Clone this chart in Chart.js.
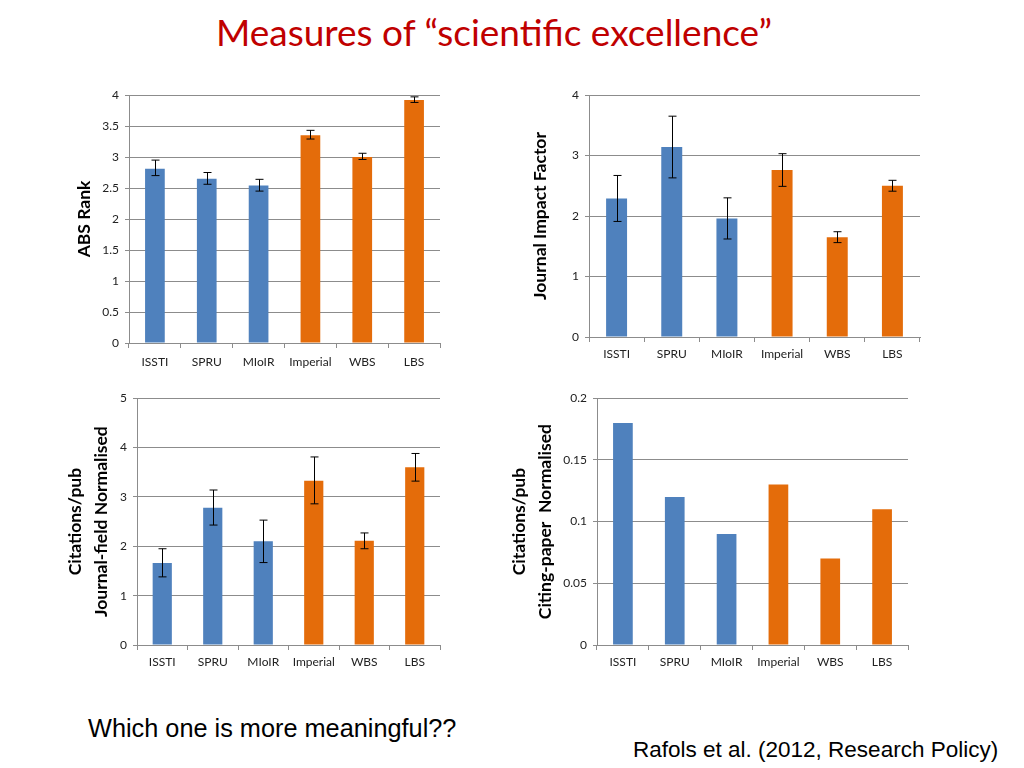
<!DOCTYPE html>
<html>
<head>
<meta charset="utf-8">
<script src="https://cdn.jsdelivr.net/npm/chart.js@4.4.0/dist/chart.umd.min.js"></script>
<style>
  body { margin: 0; width: 1024px; height: 768px; background: #fff; position: relative; overflow: hidden; }
  .title { position: absolute; left: 0; width: 988px; top: 9px; text-align: center; font-family: Lato, sans-serif; font-size: 37px; color: #c00000; }
  .note { position: absolute; font-family: "Liberation Sans", Arial, sans-serif; color: #000; }
  .box { position: absolute; }
</style>
</head>
<body>
<div class="title">Measures of “scientific excellence”</div>
<div class="box" style="left:60px;top:80px;width:390px;height:300px"><canvas id="c1"></canvas></div>
<div class="box" style="left:500px;top:80px;width:430px;height:290px"><canvas id="c2"></canvas></div>
<div class="box" style="left:50px;top:385px;width:400px;height:290px"><canvas id="c3"></canvas></div>
<div class="box" style="left:500px;top:385px;width:420px;height:290px"><canvas id="c4"></canvas></div>
<div class="note" style="left:88px;top:714px;font-size:25.3px">Which one is more meaningful??</div>
<div class="note" style="left:633px;top:737px;font-size:22.5px">Rafols et al. (2012, Research Policy)</div>
<script>
// categories + colours
const categories = ['ISSTI', 'SPRU', 'MIoIR', 'Imperial', 'WBS', 'LBS'];
const barColors = ['#4f81bd', '#4f81bd', '#4f81bd', '#e46c0a', '#e46c0a', '#e46c0a'];

// ABS rank
const absRank = [2.81, 2.65, 2.54, 3.35, 3.00, 3.92];
const absLo = [2.70, 2.56, 2.45, 3.29, 2.96, 3.88];
const absHi = [2.95, 2.75, 2.64, 3.43, 3.06, 3.97];

// journal impact factor
const jif = [2.29, 3.14, 1.96, 2.76, 1.65, 2.50];
const jifLo = [1.91, 2.63, 1.62, 2.49, 1.56, 2.41];
const jifHi = [2.67, 3.65, 2.30, 3.03, 1.74, 2.59];

// citations/pub journal-field normalised
const jfn = [1.66, 2.78, 2.10, 3.33, 2.11, 3.60];
const jfnLo = [1.38, 2.43, 1.67, 2.86, 1.95, 3.32];
const jfnHi = [1.95, 3.14, 2.53, 3.81, 2.27, 3.88];

// citations/pub citing-paper normalised
const cpn = [0.18, 0.12, 0.09, 0.13, 0.07, 0.11];

const FONT = 'Lato, "Open Sans", sans-serif';
const GRID = '#8c8c8c';

// error bars drawn with the y scale of the chart
const errorBars = {
    id: 'errorBars',
    afterDatasetsDraw(chart, args, opts) {
        if (!opts.lo) return;
        const ctx = chart.ctx;
        const y = chart.scales.y;
        const meta = chart.getDatasetMeta(0);
        ctx.save();
        ctx.strokeStyle = '#000';
        ctx.lineWidth = 1;
        meta.data.forEach((bar, i) => {
            const x = Math.round(bar.x) + 0.5;
            const y1 = y.getPixelForValue(opts.lo[i]);
            const y2 = y.getPixelForValue(opts.hi[i]);
            ctx.beginPath();
            ctx.moveTo(x, y1); ctx.lineTo(x, y2);
            ctx.moveTo(x - 4, y1); ctx.lineTo(x + 4, y1);
            ctx.moveTo(x - 4, y2); ctx.lineTo(x + 4, y2);
            ctx.stroke();
        });
        ctx.restore();
    }
};

function makeChart(id, values, cfg) {
    new Chart(document.getElementById(id), {
        type: 'bar',
        data: {
            labels: categories,
            datasets: [{ data: values, backgroundColor: barColors, categoryPercentage: 1, barPercentage: 0.38 }]
        },
        options: {
            responsive: true,
            maintainAspectRatio: false,
            animation: false,
            layout: { padding: { top: cfg.top, right: cfg.right, left: 0, bottom: 0 } },
            plugins: {
                legend: { display: false },
                tooltip: { enabled: false },
                errorBars: { lo: cfg.lo, hi: cfg.hi }
            },
            scales: {
                x: {
                    afterFit: s => { s.height = cfg.xh; },
                    grid: { drawOnChartArea: false, drawTicks: true, tickLength: 5, offset: true, color: GRID },
                    border: { color: GRID },
                    ticks: { font: { family: FONT, size: 12 }, color: '#222', padding: cfg.xp, maxRotation: 0 }
                },
                y: {
                    min: 0, max: cfg.max,
                    afterFit: s => { s.width = cfg.yw; },
                    ticks: {
                        stepSize: cfg.step, font: { family: FONT, size: 12 }, color: '#222', padding: 6,
                        callback: v => String(Number(v.toFixed(4)))
                    },
                    grid: { color: GRID, tickLength: 4 },
                    border: { color: GRID },
                    title: {
                        display: true, text: cfg.title, color: '#000',
                        font: { family: FONT, size: 17.5, weight: 'bold', lineHeight: cfg.lh },
                        padding: { top: cfg.tp, bottom: 0 }
                    }
                }
            }
        },
        plugins: [errorBars]
    });
}

makeChart('c1', absRank, { max: 4, step: 0.5, title: 'ABS Rank', top: 15, right: 10, xh: 37, xp: 7, yw: 69, lh: 1.2, tp: 14, lo: absLo, hi: absHi });
makeChart('c2', jif, { max: 4, step: 1, title: 'Journal Impact Factor', top: 15, right: 10, xh: 33, xp: 5, yw: 89, lh: 1.2, tp: 30, lo: jifLo, hi: jifHi });
makeChart('c3', jfn, { max: 5, step: 1, title: ['Citations/pub', 'Journal-field Normalised'], top: 12, right: 10, xh: 30, xp: 5, yw: 87, lh: 1.5, tp: 12, lo: jfnLo, hi: jfnHi });
makeChart('c4', cpn, { max: 0.2, step: 0.05, title: ['Citations/pub', 'Citing-paper  Normalised'], top: 12, right: 12, xh: 30, xp: 5, yw: 97, lh: 1.5, tp: 6 });
</script>
</body>
</html>
